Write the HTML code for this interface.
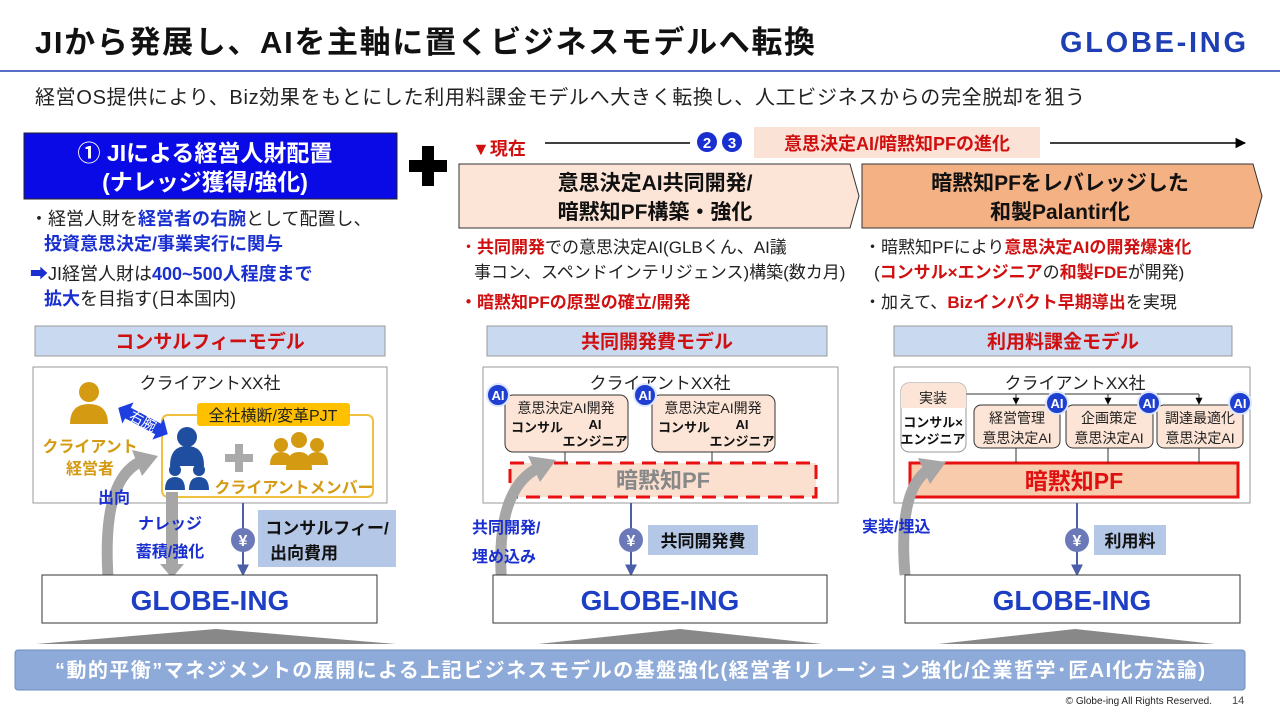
<!DOCTYPE html>
<html><head><meta charset="utf-8"><style>
html,body{margin:0;padding:0;background:#fff;}
svg{display:block;font-family:"Liberation Sans","Noto Sans CJK JP",sans-serif;}
.b{font-weight:bold;}
</style></head><body>
<svg width="1280" height="720" viewBox="0 0 1280 720" xmlns="http://www.w3.org/2000/svg">
<defs>
<marker id="ar" viewBox="0 0 10 10" refX="9" refY="5" markerWidth="7" markerHeight="7" orient="auto"><path d="M0,0 L10,5 L0,10 z" fill="#000"/></marker>
<marker id="arb" viewBox="0 0 10 10" refX="8" refY="5" markerWidth="6" markerHeight="6" orient="auto"><path d="M0,0 L10,5 L0,10 z" fill="#4a5fa8"/></marker>
<g id="ai"><circle r="11" fill="#1f3fd0" stroke="#dde6ff" stroke-width="2"/><text y="5" text-anchor="middle" font-size="13" class="b" fill="#fff">AI</text></g>
<g id="yen"><circle r="12" fill="#6c79b8"/><text y="6" text-anchor="middle" font-size="16" class="b" fill="#fff">¥</text></g>
</defs>

<!-- header -->
<text x="35" y="53" font-size="31" class="b" fill="#111" textLength="780">JIから発展し、AIを主軸に置くビジネスモデルへ転換</text>
<text x="1153" y="52" font-size="29" class="b" fill="#1e3fb4" text-anchor="middle" textLength="186">GLOBE-ING</text>
<line x1="0" y1="71" x2="1280" y2="71" stroke="#1e3fb4" stroke-width="1.5"/>
<text x="35" y="104" font-size="20" fill="#222" textLength="1050">経営OS提供により、Biz効果をもとにした利用料課金モデルへ大きく転換し、人工ビジネスからの完全脱却を狙う</text>

<!-- left title -->
<rect x="24" y="133" width="373" height="66" fill="#0a0ae6" stroke="#222" stroke-width="1"/>
<text x="205" y="161" font-size="23" class="b" fill="#fff" text-anchor="middle">①  JIによる経営人財配置</text>
<text x="205" y="190" font-size="23" class="b" fill="#fff" text-anchor="middle">(ナレッジ獲得/強化)</text>
<path d="M422,146 h12 v14 h13 v12 h-13 v14 h-12 v-14 h-13 v-12 h13 z" fill="#000"/>

<text x="30" y="225" font-size="18" fill="#222">・経営人財を<tspan class="b" fill="#1a2fd0">経営者の右腕</tspan>として配置し、</text>
<text x="44" y="250" font-size="18" class="b" fill="#1a2fd0">投資意思決定/事業実行に関与</text>
<text x="30" y="280" font-size="18" fill="#222"><tspan fill="#1a2fd0">➡</tspan>JI経営人財は<tspan class="b" fill="#1a2fd0">400~500人程度まで</tspan></text>
<text x="44" y="305" font-size="18" fill="#222"><tspan class="b" fill="#1a2fd0">拡大</tspan>を目指す(日本国内)</text>

<!-- timeline -->
<text x="472" y="155" font-size="18" class="b" fill="#d01010">▼現在</text>
<line x1="545" y1="143" x2="1245" y2="143" stroke="#000" stroke-width="1.5" marker-end="url(#ar)"/>
<rect x="690" y="128" width="360" height="30" fill="#fff"/>
<circle cx="707" cy="142" r="10" fill="#1a2fd0"/><text x="707" y="148" font-size="15" class="b" fill="#fff" text-anchor="middle">2</text>
<circle cx="732" cy="142" r="10" fill="#1a2fd0"/><text x="732" y="148" font-size="15" class="b" fill="#fff" text-anchor="middle">3</text>
<rect x="754" y="127" width="286" height="31" fill="#fbe2d6"/>
<text x="897" y="150" font-size="18" class="b" fill="#d01010" text-anchor="middle">意思決定AI/暗黙知PFの進化</text>

<!-- chevrons -->
<path d="M459,164 H850 L859,196 L850,228 H459 Z" fill="#fce4d6" stroke="#333" stroke-width="1"/>
<text x="655" y="190" font-size="21" class="b" fill="#111" text-anchor="middle">意思決定AI共同開発/</text>
<text x="655" y="219" font-size="21" class="b" fill="#111" text-anchor="middle">暗黙知PF構築・強化</text>
<path d="M862,164 H1253 L1262,196 L1253,228 H862 Z" fill="#f4b183" stroke="#333" stroke-width="1"/>
<text x="1060" y="190" font-size="21" class="b" fill="#111" text-anchor="middle">暗黙知PFをレバレッジした</text>
<text x="1060" y="219" font-size="21" class="b" fill="#111" text-anchor="middle">和製Palantir化</text>

<text x="460" y="253" font-size="17" fill="#222"><tspan fill="#d01010">・</tspan><tspan class="b" fill="#d01010">共同開発</tspan>での意思決定AI(GLBくん、AI議</text>
<text x="474" y="278" font-size="17" fill="#222">事コン、スペンドインテリジェンス)構築(数カ月)</text>
<text x="460" y="308" font-size="17" class="b" fill="#d01010">・暗黙知PFの原型の確立/開発</text>
<text x="864" y="253" font-size="17" fill="#222">・暗黙知PFにより<tspan class="b" fill="#d01010">意思決定AIの開発爆速化</tspan></text>
<text x="874" y="278" font-size="17" fill="#222">(<tspan class="b" fill="#d01010">コンサル×エンジニア</tspan>の<tspan class="b" fill="#d01010">和製FDE</tspan>が開発)</text>
<text x="864" y="308" font-size="17" fill="#222">・加えて、<tspan class="b" fill="#d01010">Bizインパクト早期導出</tspan>を実現</text>

<!-- model headers -->
<rect x="35" y="326" width="350" height="30" fill="#c9daf0" stroke="#999"/>
<text x="210" y="348" font-size="19" class="b" fill="#d01010" text-anchor="middle">コンサルフィーモデル</text>
<rect x="487" y="326" width="340" height="30" fill="#c9daf0" stroke="#999"/>
<text x="657" y="348" font-size="19" class="b" fill="#d01010" text-anchor="middle">共同開発費モデル</text>
<rect x="894" y="326" width="338" height="30" fill="#c9daf0" stroke="#999"/>
<text x="1063" y="348" font-size="19" class="b" fill="#d01010" text-anchor="middle">利用料課金モデル</text>

<!-- LEFT diagram -->
<rect x="33" y="367" width="354" height="136" fill="#fff" stroke="#999"/>
<text x="210" y="389" font-size="17" fill="#222" text-anchor="middle">クライアントXX社</text>
<g fill="#d49a12">
<circle cx="89" cy="392" r="10"/><path d="M70,424 q0,-20 19,-20 q19,0 19,20 z"/>
</g>
<text x="90" y="452" font-size="16" class="b" fill="#d49a12" text-anchor="middle">クライアント</text>
<text x="90" y="474" font-size="16" class="b" fill="#d49a12" text-anchor="middle">経営者</text>
<rect x="162" y="415" width="211" height="82" rx="6" fill="none" stroke="#f0c040" stroke-width="2"/>
<rect x="197" y="403" width="153" height="23" rx="3" fill="#ffc000"/>
<text x="273" y="421" font-size="16" fill="#222" text-anchor="middle">全社横断/変革PJT</text>
<g transform="translate(143 421) rotate(28)">
<path d="M-28,0 l11,-12 v6 h34 v-6 l11,12 -11,12 v-6 h-34 v6 z" fill="#1f3ee0"/>
<text x="0" y="5" font-size="14" fill="#fff" text-anchor="middle">右腕</text>
</g>
<g fill="#1f4ea0">
<circle cx="187" cy="437" r="10"/><path d="M170,466 q0,-20 17,-20 q17,0 17,20 z"/>
<circle cx="175" cy="470" r="6"/><path d="M165,490 q0,-13 10,-13 q10,0 10,13 z"/>
<circle cx="199" cy="470" r="6"/><path d="M189,490 q0,-13 10,-13 q10,0 10,13 z"/>
</g>
<path d="M235,444 h8 v10 h10 v8 h-10 v10 h-8 v-10 h-10 v-8 h10 z" fill="#aaa"/>
<g fill="#d49a12">
<circle cx="281" cy="445" r="7"/><path d="M270,465 q0,-13 11,-13 q11,0 11,13 z"/>
<circle cx="317" cy="445" r="7"/><path d="M306,465 q0,-13 11,-13 q11,0 11,13 z"/>
<circle cx="299" cy="440" r="8"/><path d="M286,470 q0,-18 13,-18 q13,0 13,18 z"/>
</g>
<text x="294" y="493" font-size="16" class="b" fill="#d49a12" text-anchor="middle">クライアントメンバー</text>
<path d="M108,577 Q102,480 140,462" fill="none" stroke="#a6a6a6" stroke-width="11"/>
<path d="M132,450 L158,456 L142,476 z" fill="#a6a6a6"/>
<text x="98" y="503" font-size="16" class="b" fill="#1a2fd0">出向</text>
<line x1="172" y1="492" x2="172" y2="566" stroke="#a6a6a6" stroke-width="12"/>
<path d="M160,564 h24 l-12,14 z" fill="#a6a6a6"/>
<text x="170" y="529" font-size="16" class="b" fill="#1a2fd0" text-anchor="middle">ナレッジ</text>
<text x="170" y="557" font-size="16" class="b" fill="#1a2fd0" text-anchor="middle">蓄積/強化</text>
<line x1="243" y1="503" x2="243" y2="574" stroke="#4a5fa8" stroke-width="2" marker-end="url(#arb)"/>
<use href="#yen" x="243" y="540"/>
<rect x="258" y="510" width="138" height="57" fill="#b4c7e7"/>
<text x="327" y="534" font-size="17" class="b" fill="#111" text-anchor="middle">コンサルフィー/</text>
<text x="304" y="559" font-size="17" class="b" fill="#111" text-anchor="middle">出向費用</text>

<!-- MIDDLE diagram -->
<rect x="483" y="367" width="355" height="136" fill="#fff" stroke="#999"/>
<text x="660" y="389" font-size="17" fill="#222" text-anchor="middle">クライアントXX社</text>
<rect x="510" y="463" width="306" height="34" fill="#fbe0d0" stroke="#e81010" stroke-width="3" stroke-dasharray="14 8"/>
<text x="663" y="488" font-size="22" class="b" fill="#888" text-anchor="middle">暗黙知PF</text>
<line x1="565" y1="452" x2="565" y2="463" stroke="#333"/>
<line x1="712" y1="452" x2="712" y2="463" stroke="#333"/>
<rect x="505" y="395" width="123" height="57" rx="8" fill="#fce4d6" stroke="#333"/>
<rect x="652" y="395" width="123" height="57" rx="8" fill="#fce4d6" stroke="#333"/>
<text x="566" y="413" font-size="14" fill="#222" text-anchor="middle">意思決定AI開発</text>
<text x="713" y="413" font-size="14" fill="#222" text-anchor="middle">意思決定AI開発</text>
<text x="511" y="432" font-size="13" class="b" fill="#111">コンサル</text>
<text x="658" y="432" font-size="13" class="b" fill="#111">コンサル</text>
<text x="595" y="429" font-size="13" class="b" fill="#111" text-anchor="middle">AI</text>
<text x="742" y="429" font-size="13" class="b" fill="#111" text-anchor="middle">AI</text>
<text x="595" y="446" font-size="13" class="b" fill="#111" text-anchor="middle">エンジニア</text>
<text x="742" y="446" font-size="13" class="b" fill="#111" text-anchor="middle">エンジニア</text>
<use href="#ai" x="498" y="395"/><use href="#ai" x="645" y="395"/>
<path d="M502,588 Q494,490 538,468" fill="none" stroke="#a6a6a6" stroke-width="11"/>
<path d="M528,456 L556,460 L540,482 z" fill="#a6a6a6"/>
<text x="472" y="533" font-size="16" class="b" fill="#1a2fd0">共同開発/</text>
<text x="472" y="562" font-size="16" class="b" fill="#1a2fd0">埋め込み</text>
<line x1="631" y1="503" x2="631" y2="574" stroke="#4a5fa8" stroke-width="2" marker-end="url(#arb)"/>
<use href="#yen" x="631" y="540"/>
<rect x="648" y="525" width="110" height="30" fill="#b4c7e7"/>
<text x="703" y="547" font-size="17" class="b" fill="#111" text-anchor="middle">共同開発費</text>

<!-- RIGHT diagram -->
<rect x="894" y="367" width="356" height="136" fill="#fff" stroke="#999"/>
<text x="1075" y="389" font-size="17" fill="#222" text-anchor="middle">クライアントXX社</text>
<rect x="910" y="463" width="328" height="34" fill="#f8cbad" stroke="#e81010" stroke-width="3"/>
<text x="1074" y="489" font-size="23" class="b" fill="#e01010" text-anchor="middle">暗黙知PF</text>
<line x1="1016" y1="448" x2="1016" y2="463" stroke="#333"/>
<line x1="1108" y1="448" x2="1108" y2="463" stroke="#333"/>
<line x1="1199" y1="448" x2="1199" y2="463" stroke="#333"/>
<polyline points="966,394 1199,394" fill="none" stroke="#333"/>
<line x1="1016" y1="394" x2="1016" y2="404" stroke="#333" marker-end="url(#ar)"/>
<line x1="1108" y1="394" x2="1108" y2="404" stroke="#333" marker-end="url(#ar)"/>
<line x1="1199" y1="394" x2="1199" y2="404" stroke="#333" marker-end="url(#ar)"/>
<rect x="901" y="383" width="65" height="69" rx="8" fill="#fff" stroke="#999"/>
<path d="M901,408 v-17 a8,8 0 0 1 8,-8 h49 a8,8 0 0 1 8,8 v17 z" fill="#fce4d6"/>
<text x="933" y="403" font-size="14" fill="#222" text-anchor="middle">実装</text>
<text x="933" y="427" font-size="13" class="b" fill="#111" text-anchor="middle">コンサル×</text>
<text x="933" y="444" font-size="13" class="b" fill="#111" text-anchor="middle">エンジニア</text>
<rect x="974" y="405" width="86" height="43" rx="7" fill="#fce4d6" stroke="#333"/>
<rect x="1066" y="405" width="87" height="43" rx="7" fill="#fce4d6" stroke="#333"/>
<rect x="1157" y="405" width="86" height="43" rx="7" fill="#fce4d6" stroke="#333"/>
<text x="1017" y="423" font-size="14" fill="#222" text-anchor="middle">経営管理</text>
<text x="1017" y="443" font-size="14" fill="#222" text-anchor="middle">意思決定AI</text>
<text x="1109" y="423" font-size="14" fill="#222" text-anchor="middle">企画策定</text>
<text x="1109" y="443" font-size="14" fill="#222" text-anchor="middle">意思決定AI</text>
<text x="1200" y="423" font-size="14" fill="#222" text-anchor="middle">調達最適化</text>
<text x="1200" y="443" font-size="14" fill="#222" text-anchor="middle">意思決定AI</text>
<use href="#ai" x="1057" y="403"/><use href="#ai" x="1149" y="403"/><use href="#ai" x="1240" y="403"/>
<path d="M905,575 Q898,490 928,470" fill="none" stroke="#a6a6a6" stroke-width="11"/>
<path d="M918,458 L946,462 L930,484 z" fill="#a6a6a6"/>
<text x="862" y="532" font-size="16" class="b" fill="#1a2fd0">実装/埋込</text>
<line x1="1077" y1="503" x2="1077" y2="574" stroke="#4a5fa8" stroke-width="2" marker-end="url(#arb)"/>
<use href="#yen" x="1077" y="540"/>
<rect x="1094" y="525" width="72" height="30" fill="#b4c7e7"/>
<text x="1130" y="547" font-size="17" class="b" fill="#111" text-anchor="middle">利用料</text>

<!-- GLOBE-ING boxes -->
<rect x="42" y="575" width="335" height="48" fill="#fff" stroke="#333"/>
<text x="210" y="610" font-size="28" class="b" fill="#1e3fc4" text-anchor="middle">GLOBE-ING</text>
<rect x="493" y="575" width="334" height="48" fill="#fff" stroke="#333"/>
<text x="660" y="610" font-size="28" class="b" fill="#1e3fc4" text-anchor="middle">GLOBE-ING</text>
<rect x="905" y="575" width="335" height="48" fill="#fff" stroke="#333"/>
<text x="1072" y="610" font-size="28" class="b" fill="#1e3fc4" text-anchor="middle">GLOBE-ING</text>

<!-- triangles -->
<path d="M36,644 L216,629 L396,644 z" fill="#888"/>
<path d="M538,644 L680,629 L822,644 z" fill="#888"/>
<path d="M938,644 L1075,629 L1215,644 z" fill="#888"/>

<!-- base bar -->
<rect x="15" y="650" width="1230" height="40" rx="3" fill="#8eaad8" stroke="#6f8cc0"/>
<text x="630" y="677" font-size="20" class="b" fill="#fff" text-anchor="middle" textLength="1150">“動的平衡”マネジメントの展開による上記ビジネスモデルの基盤強化(経営者リレーション強化/企業哲学･匠AI化方法論)</text>
<text x="1212" y="704" font-size="10" fill="#222" text-anchor="end">© Globe-ing All Rights Reserved.</text>
<text x="1232" y="704" font-size="11" fill="#444">14</text>
</svg>
</body></html>
